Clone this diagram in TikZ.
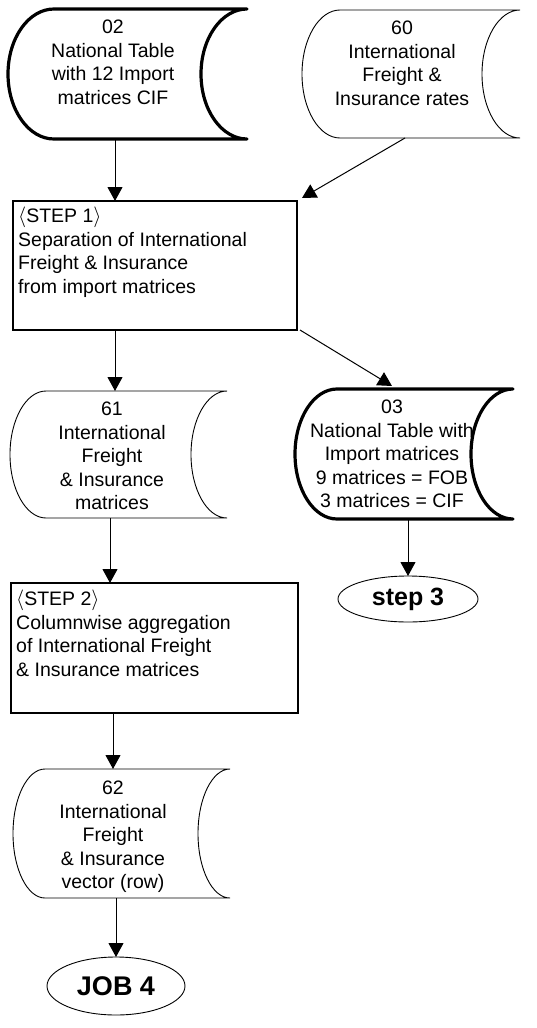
\documentclass[tikz,border=0pt]{standalone}
\usepackage{fontspec}
\setmainfont{Liberation Sans}
\usetikzlibrary{arrows.meta,shapes.geometric}

% Outline of a "stored data" symbol around a rectangular node:
% convex arc on the left, concave arc on the right.
% #1 node name, #2 arc x radius, #3 arc y radius (half height), #4 line style
\newcommand{\storedoutline}[4]{%
  \draw[#4] ([xshift=#2]#1.north west) -- (#1.north east)
    arc[start angle=90, end angle=270, x radius=#2, y radius=#3]
    -- ([xshift=#2]#1.south west)
    arc[start angle=270, end angle=90, x radius=#2, y radius=#3] -- cycle;}

\newcommand{\lab}[1]{\ensuremath{\langle}#1\ensuremath{\rangle}}

\begin{document}
\begin{tikzpicture}[x=1pt, y=1pt,
  frame/.style={draw=none, inner sep=0pt, outer sep=0pt},
  thinline/.style={line width=0.9pt},
  thickline/.style={line width=3.2pt, line join=round},
  storetext/.style={anchor=north, inner sep=0pt, align=center,
    font=\fontsize{19.5}{23.5}\selectfont},
  stepbox/.style={draw, line width=1.1pt, inner sep=0pt, outer sep=0pt},
  steptext/.style={anchor=north west, inner sep=0pt, align=left,
    font=\fontsize{19.5}{23.5}\selectfont},
  terminal/.style={draw, ellipse, line width=0.9pt, inner sep=0pt, outer sep=0pt,
    font=\bfseries},
  arr/.style={line width=1pt, -{Triangle[width=15pt, length=14pt]}}
]
\useasboundingbox (0,0) rectangle (536,-1028);

% ---- data stores ----
\node[frame, minimum width=239pt, minimum height=130pt] (n02) at (127.5,-74) {};
\storedoutline{n02}{46pt}{65pt}{thickline}
\node[storetext] (t02) at (113,-20) {02\\National Table\\with 12 Import\\matrices CIF};

\node[frame, minimum width=218pt, minimum height=128pt] (n60) at (411,-74) {};
\storedoutline{n60}{38pt}{64pt}{thinline}
\node[storetext] (t60) at (402,-21) {60\\International\\Freight \&\\Insurance rates};

\node[frame, minimum width=217pt, minimum height=127pt] (n61) at (118.5,-454.5) {};
\storedoutline{n61}{36pt}{63.5pt}{thinline}
\node[storetext] (t61) at (112,-402) {61\\International\\Freight\\\& Insurance\\matrices};

\node[frame, minimum width=218pt, minimum height=130pt] (n03) at (404,-454) {};
\storedoutline{n03}{42pt}{65pt}{thickline}
\node[storetext] (t03) at (392,-400) {03\\National Table with\\Import matrices\\9 matrices = FOB\\3 matrices = CIF};

\node[frame, minimum width=217pt, minimum height=129pt] (n62) at (121.5,-833.5) {};
\storedoutline{n62}{32pt}{64.5pt}{thinline}
\node[storetext] (t62) at (113,-781) {62\\International\\Freight\\\& Insurance\\vector (row)};

% ---- process steps ----
\node[stepbox, minimum width=284pt, minimum height=129pt] (s1) at (155,-265.5) {};
\node[steptext] (ts1) at (18,-207) {\lab{STEP 1}\\Separation of International\\Freight \& Insurance\\from import matrices};

\node[stepbox, minimum width=287pt, minimum height=130pt] (s2) at (154.5,-648) {};
\node[steptext] (ts2) at (16,-590) {\lab{STEP 2}\\Columnwise aggregation\\of International Freight\\\& Insurance matrices};

% ---- terminals ----
\node[terminal, minimum width=140pt, minimum height=46pt,
  font=\bfseries\fontsize{25}{28}\selectfont] (st3) at (408,-599) {step 3};
\node[terminal, minimum width=138pt, minimum height=58pt,
  font=\bfseries\fontsize{27}{30}\selectfont] (job4) at (116,-986) {JOB 4};

% ---- connectors ----
\draw[arr] ([xshift=-12.5pt]n02.south) -- ([xshift=-12.5pt]n02.south |- s1.north);
\draw[arr] ([xshift=-6pt]n60.south) -- ([shift={(5pt,3pt)}]s1.north east);
\draw[arr] ([xshift=-40pt]s1.south) -- ([xshift=-40pt]s1.south |- n61.north);
\draw[arr] ([xshift=3pt]s1.south east) -- ([shift={(-12pt,3pt)}]n03.north);
\draw[arr] ([xshift=-8.5pt]n61.south) -- ([xshift=-8.5pt]n61.south |- s2.north);
\draw[arr] (st3.north |- n03.south) -- (st3.north);
\draw[arr] ([xshift=-41.5pt]s2.south) -- ([xshift=-41.5pt]s2.south |- n62.north);
\draw[arr] (job4.north |- n62.south) -- (job4.north);
\end{tikzpicture}
\end{document}
